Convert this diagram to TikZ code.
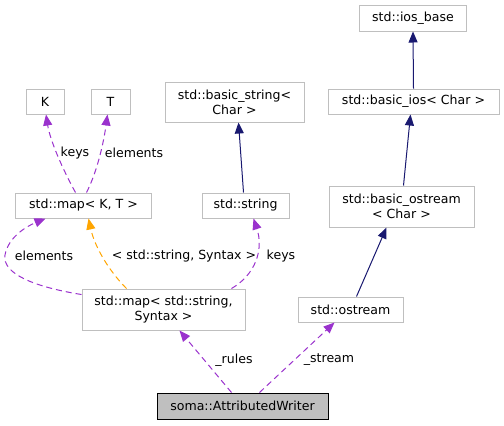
\documentclass[tikz,border=0pt]{standalone}
\usepackage{fontspec}
\setmainfont{DejaVu Sans}
\usetikzlibrary{arrows.meta}
\definecolor{boxgray}{HTML}{BFBFBF}
\definecolor{navy}{HTML}{191970}
\definecolor{orchid}{HTML}{9A32CD}
\definecolor{orng}{HTML}{FFA500}
\tikzset{
  box/.style={draw=boxgray, fill=white, line width=1bp, inner sep=0pt, align=center, font=\fontsize{12.6}{15}\selectfont},
  mainbox/.style={box, draw=black, fill=boxgray},
  lbl/.style={inner sep=0pt, font=\fontsize{12.6}{15}\selectfont},
  inherit/.style={draw=navy, line width=1bp, -{Triangle[length=11bp,width=9bp]}},
  usage/.style={draw=orchid, line width=1bp, dash pattern=on 6bp off 4bp, -{Triangle[length=11bp,width=9bp]}},
  tmpl/.style={draw=orng, line width=1bp, dash pattern=on 6bp off 4bp, -{Triangle[length=11bp,width=9bp]}},
}
\begin{document}
\begin{tikzpicture}[x=1bp,y=-1bp]
\useasboundingbox (0,0) rectangle (504,425);
\node[box, minimum width=107bp, minimum height=26bp] (iosbase) at (413,18) {std::ios\_base};
\node[box, minimum width=171bp, minimum height=25bp] (basicios) at (413.5,101.5) {std::basic\_ios< Char >};
\node[box, minimum width=145bp, minimum height=41bp] (bostream) at (401.5,206.5) {std::basic\_ostream\\< Char >};
\node[box, minimum width=139bp, minimum height=40bp] (bstring) at (234.5,102) {std::basic\_string<\\Char >};
\node[box, minimum width=87bp, minimum height=25bp] (string) at (245.5,205.5) {std::string};
\node[box, minimum width=38bp, minimum height=25bp] (K) at (45,101.5) {K};
\node[box, minimum width=39bp, minimum height=25bp] (T) at (110.5,101.5) {T};
\node[box, minimum width=135bp, minimum height=25bp] (mapKT) at (83.5,205.5) {std::map< K, T >};
\node[box, minimum width=163bp, minimum height=41bp] (mapSS) at (163.5,309.5) {std::map< std::string,\\Syntax >};
\node[box, minimum width=105bp, minimum height=25bp] (ostream) at (350.5,309.5) {std::ostream};
\node[mainbox, minimum width=171bp, minimum height=26bp] (aw) at (242.5,406) {soma::AttributedWriter};

\draw[inherit] (basicios.north) -- (iosbase.south);
\draw[inherit] ([xshift=2bp]bostream.north) -- ([xshift=-3bp]basicios.south);
\draw[inherit] ([xshift=6bp]ostream.north) -- ([xshift=-15bp]bostream.south);
\draw[inherit] ([xshift=-2bp]string.north) -- ([xshift=4bp]bstring.south);

\draw[usage] ([xshift=-8bp]mapKT.north) .. controls (62,168) and (50,140) .. ([xshift=1bp]K.south);
\node[lbl] (lkeys1) at (75,153) {keys};
\draw[usage] ([xshift=3bp]mapKT.north) .. controls (98,170) and (104,140) .. ([xshift=-3bp]T.south);
\node[lbl] (lelem1) at (134,153) {elements};

\draw[usage] ([yshift=15bp]mapSS.west) .. controls (35,287) and (2,274) .. (5,255) .. controls (8,238) and (25,227) .. ([xshift=-38bp]mapKT.south);
\node[lbl] (lelem2) at (44,256) {elements};
\draw[tmpl] ([xshift=-37bp]mapSS.north) .. controls (110,272) and (95,248) .. ([xshift=5bp]mapKT.south);
\node[lbl] (ltmpl) at (184,256) {< std::string, Syntax >};
\draw[usage] ([xshift=68bp]mapSS.north) .. controls (255,275) and (264,250) .. ([xshift=8bp]string.south);
\node[lbl] (lkeys2) at (281,256) {keys};

\draw[usage] ([xshift=-11bp]aw.north) -- ([xshift=16bp]mapSS.south);
\node[lbl] (lrules) at (234,360) {\_rules};
\draw[usage] ([xshift=17bp]aw.north) -- ([xshift=-16bp]ostream.south);
\node[lbl] (lstream) at (329,360) {\_stream};
\end{tikzpicture}
\end{document}
